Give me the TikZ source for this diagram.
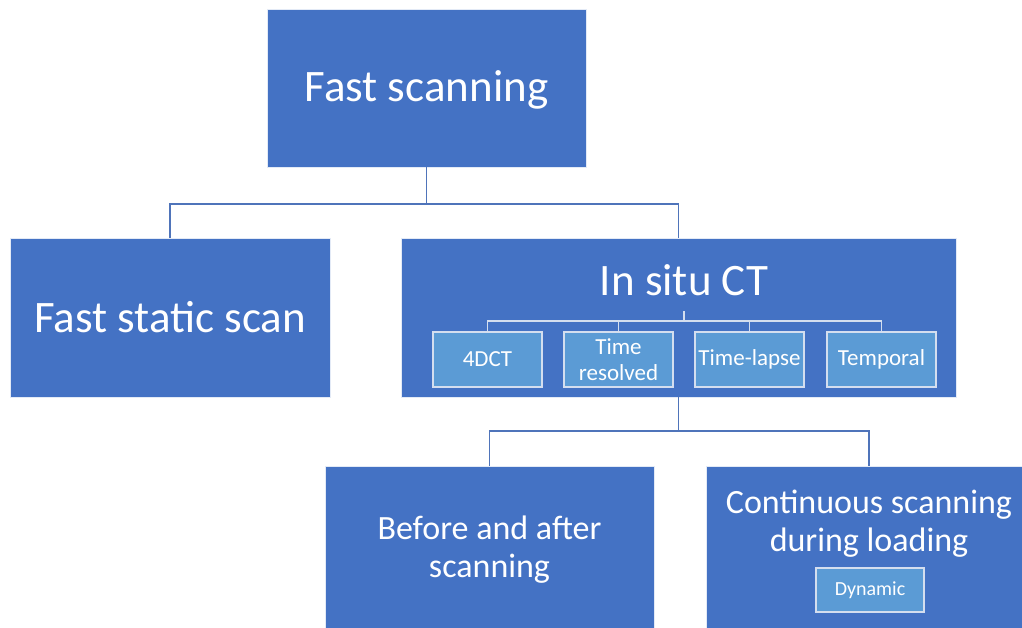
\documentclass[tikz,border=0pt]{standalone}
\usepackage{fontspec}
\setmainfont{Carlito}
\definecolor{boxblue}{HTML}{4472C4}
\definecolor{subblue}{HTML}{5B9BD5}
\definecolor{connblue}{HTML}{4F74BA}
\definecolor{subline}{HTML}{D4DEEF}
\begin{document}
\begin{tikzpicture}[x=1pt,y=-1pt,
  box/.style={rectangle, fill=boxblue, draw=white!85!boxblue, line width=0.8pt, inner sep=0pt, text=white, align=center},
  subbox/.style={rectangle, fill=subblue, draw=subline, line width=1.2pt, inner sep=0pt, text=white, align=center,
    minimum width=109pt, minimum height=55pt, font=\fontsize{23}{25}\selectfont},
  conn/.style={draw=connblue, line width=1.5pt},
  subconn/.style={draw=subline, line width=1.2pt},
  big/.style={text=white, font=\fontsize{45}{52}\selectfont},
  mid/.style={text=white, align=center, font=\fontsize{34}{38}\selectfont}
]
\useasboundingbox (0,0) rectangle (1022,628);
\clip (0,0) rectangle (1022,628);
% top
\node[box, minimum width=319pt, minimum height=158pt] (fs) at (426.5,88) {};
\node[big] (fst) at (426.5,90) {Fast scanning};
% second level
\node[box, minimum width=320pt, minimum height=159pt, font=\fontsize{45}{52}\selectfont] (fss) at (170,317.5) {Fast static scan};
\node[box, minimum width=555pt, minimum height=159pt] (isct) at (678.5,317.5) {};
\node[big] (isctt) at (684,280) {In situ CT};
% sub boxes
\node[subbox] (s1) at (487.5,359.5) {4DCT};
\node[subbox, font=\fontsize{23}{25.5}\selectfont] (s2) at (618.5,359.5) {Time\\resolved};
\node[subbox] (s3) at (749.5,359.5) {Time-lapse};
\node[subbox] (s4) at (881.5,359.5) {Temporal};
% third level
\node[box, minimum width=329pt, minimum height=180pt] (ba) at (489.5,556) {};
\node[mid] (bat) at (489.5,550) {Before and after\\scanning};
\node[box, minimum width=326pt, minimum height=180pt] (cs) at (869,556) {};
\node[mid] (cst) at (869,524) {Continuous scanning\\during loading};
\node[subbox, minimum width=108pt, minimum height=44pt, font=\fontsize{20}{22}\selectfont] (dyn) at (870,590) {Dynamic};
% connectors
\coordinate (j1) at (426.5,204);
\draw[conn] (fs.south) -- (j1);
\draw[conn] (fss.north) |- (j1) -| (isct.north);
\coordinate (j2) at (678.5,431);
\draw[conn] (isct.south) -- (j2);
\draw[conn] (ba.north) |- (j2) -| (cs.north);
\coordinate (t3) at (684,311);
\coordinate (j3) at (684,321);
\draw[subconn] (t3) -- (j3);
\draw[subconn] (s1.north) |- (j3) -| (s4.north);
\draw[subconn] (s2.north) -- (s2.north |- j3);
\draw[subconn] (s3.north) -- (s3.north |- j3);
\end{tikzpicture}
\end{document}
